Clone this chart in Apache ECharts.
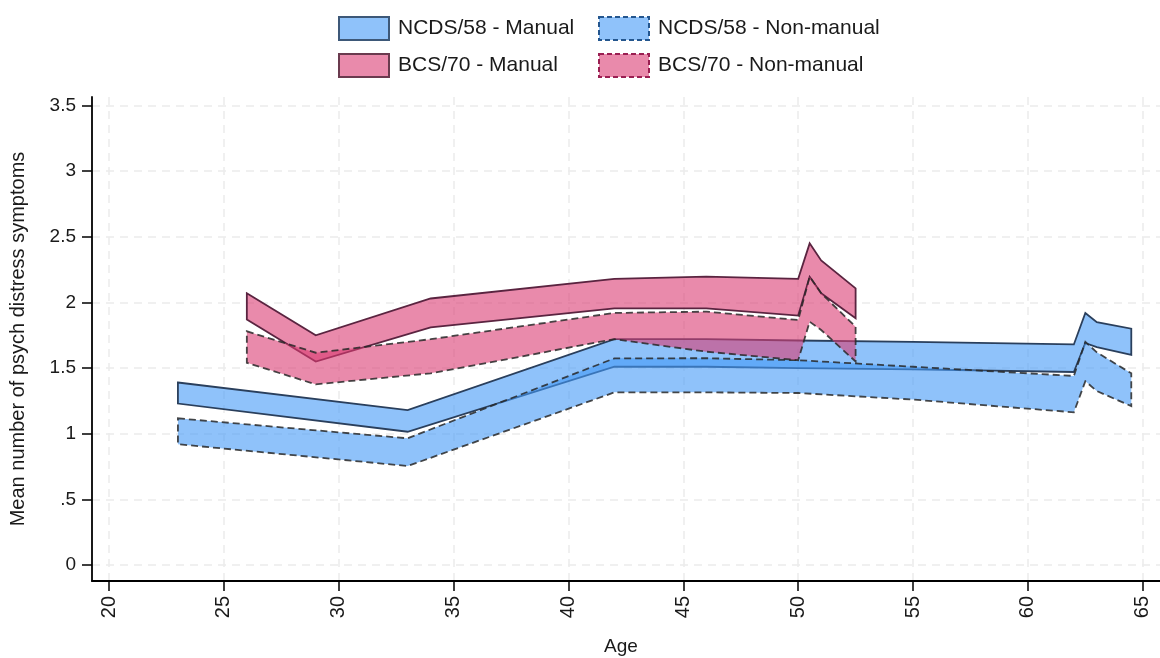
<!DOCTYPE html>
<html>
<head>
<meta charset="utf-8">
<script src="https://cdn.jsdelivr.net/npm/echarts@6/dist/echarts.min.js"></script>
<style>
html,body{margin:0;padding:0;background:#fff;}
#chart{width:1160px;height:658px;}
</style>
</head>
<body>
<div id="chart"></div>
<script>
// ---- data ----
const ncdsAges = [23, 33, 42, 46, 50, 55, 62, 62.5, 63, 64.5];
const ncdsManualLo = [1.23, 1.015, 1.51, 1.51, 1.50, 1.49, 1.47, 1.69, 1.66, 1.60];
const ncdsManualHi = [1.39, 1.18, 1.72, 1.72, 1.71, 1.70, 1.68, 1.92, 1.85, 1.80];
const ncdsNonLo = [0.92, 0.754, 1.315, 1.315, 1.31, 1.26, 1.163, 1.40, 1.325, 1.21];
const ncdsNonHi = [1.117, 0.965, 1.574, 1.575, 1.56, 1.51, 1.44, 1.70, 1.62, 1.46];

const bcsAges = [26, 29, 34, 42, 46, 50, 50.5, 51, 52.5];
const bcsManualLo = [1.87, 1.55, 1.81, 1.955, 1.955, 1.90, 2.196, 2.07, 1.88];
const bcsManualHi = [2.07, 1.75, 2.03, 2.18, 2.196, 2.18, 2.45, 2.32, 2.107];
const bcsNonLo = [1.54, 1.376, 1.46, 1.72, 1.625, 1.56, 1.853, 1.79, 1.55];
const bcsNonHi = [1.78, 1.617, 1.72, 1.92, 1.93, 1.866, 2.196, 2.07, 1.815];

const xTicks = [20, 25, 30, 35, 40, 45, 50, 55, 60, 65];
const yTicks = [0, 0.5, 1, 1.5, 2, 2.5, 3, 3.5];

const seriesNames = ['NCDS/58 - Manual', 'NCDS/58 - Non-manual', 'BCS/70 - Manual', 'BCS/70 - Non-manual'];

// ---- styles ----
const FONT = 'Arial, "Liberation Sans", Helvetica, sans-serif';
const blueFill = 'rgba(68,153,247,0.6)';
const pinkFill = 'rgba(218,60,115,0.6)';
const styles = [
  {fill: blueFill, stroke: '#2a3f5c', dash: null, legendBorder: '#3d5878'},
  {fill: blueFill, stroke: 'rgba(40,40,40,0.85)', dash: [7, 4], legendBorder: '#24568e'},
  {fill: pinkFill, stroke: '#5a2440', dash: null, legendBorder: '#6a3a4e'},
  {fill: pinkFill, stroke: 'rgba(40,40,40,0.85)', dash: [7, 4], legendBorder: '#9a1f52'}
];

function bandData(ages, lo, hi) {
  return ages.map((a, i) => [a, lo[i], hi[i]]);
}
const bands = [
  bandData(ncdsAges, ncdsManualLo, ncdsManualHi),
  bandData(ncdsAges, ncdsNonLo, ncdsNonHi),
  bandData(bcsAges, bcsManualLo, bcsManualHi),
  bandData(bcsAges, bcsNonLo, bcsNonHi)
];

function makeSeries(k) {
  const st = styles[k];
  const data = bands[k];
  return {
    name: seriesNames[k],
    type: 'custom',
    data: data,
    encode: {x: 0, y: [1, 2]},
    itemStyle: {color: st.fill, borderColor: st.legendBorder, borderWidth: 2, borderType: st.dash ? 'dashed' : 'solid'},
    renderItem: function (params, api) {
      if (params.dataIndex !== 0) return null;
      const pts = [];
      for (let i = 0; i < data.length; i++) pts.push(api.coord([data[i][0], data[i][2]]));
      for (let i = data.length - 1; i >= 0; i--) pts.push(api.coord([data[i][0], data[i][1]]));
      return {
        type: 'polygon',
        shape: {points: pts},
        style: {
          fill: st.fill,
          stroke: st.stroke,
          lineWidth: 1.8,
          lineDash: st.dash || null,
          lineJoin: 'miter'
        }
      };
    }
  };
}

function legendItem(k) {
  const st = styles[k];
  return {
    name: seriesNames[k],
    itemStyle: {color: st.fill, borderColor: st.legendBorder, borderWidth: 2, borderType: st.dash ? [5, 3] : 'solid'}
  };
}

const chart = echarts.init(document.getElementById('chart'), null, {renderer: 'canvas'});
const gridLine = {show: true, lineStyle: {color: '#ebebeb', width: 1.5, type: [8, 6]}};
const legendText = {fontSize: 21, color: '#1a1a1a', fontFamily: FONT, padding: [0, 0, 0, 4]};

chart.setOption({
  animation: false,
  backgroundColor: '#ffffff',
  textStyle: {fontFamily: FONT},
  legend: [
    {
      left: 333, top: 11, orient: 'vertical', itemWidth: 50, itemHeight: 23, itemGap: 12,
      selectedMode: false, icon: 'rect', textStyle: legendText,
      data: [legendItem(0), legendItem(2)]
    },
    {
      left: 593, top: 11, orient: 'vertical', itemWidth: 50, itemHeight: 23, itemGap: 12,
      selectedMode: false, icon: 'rect', textStyle: legendText,
      data: [legendItem(1), legendItem(3)]
    }
  ],
  grid: {left: 92, right: 0, top: 97, bottom: 77, containLabel: false, outerBoundsMode: 'none'},
  xAxis: {
    type: 'value',
    min: 19.26,
    max: 65.75,
    name: 'Age',
    nameLocation: 'middle',
    nameGap: 56,
    nameMoveOverlap: false,
    nameTextStyle: {fontSize: 19, color: '#1a1a1a', fontFamily: FONT, padding: [0, 10, 0, 0]},
    axisLine: {show: true, onZero: false, lineStyle: {color: '#000', width: 1.8}},
    axisTick: {show: true, length: 10, lineStyle: {color: '#000', width: 1.5}, customValues: xTicks},
    axisLabel: {show: true, rotate: 90, margin: 15, fontSize: 20, color: '#1a1a1a', fontFamily: FONT, customValues: xTicks},
    splitLine: gridLine
  },
  yAxis: {
    type: 'value',
    min: -0.122,
    max: 3.565,
    name: 'Mean number of psych distress symptoms',
    nameLocation: 'middle',
    nameGap: 64,
    nameMoveOverlap: false,
    nameTextStyle: {fontSize: 20, color: '#1a1a1a', fontFamily: FONT},
    axisLine: {show: true, onZero: false, lineStyle: {color: '#000', width: 1.8}},
    axisTick: {show: true, length: 10, lineStyle: {color: '#000', width: 1.5}, customValues: yTicks},
    axisLabel: {
      show: true, margin: 16, fontSize: 19, color: '#1a1a1a', fontFamily: FONT, customValues: yTicks,
      formatter: function (v) { return v === 0 ? '0' : String(v).replace(/^0\./, '.'); }
    },
    splitLine: gridLine
  },
  series: [makeSeries(0), makeSeries(1), makeSeries(2), makeSeries(3)]
});
</script>
</body>
</html>
